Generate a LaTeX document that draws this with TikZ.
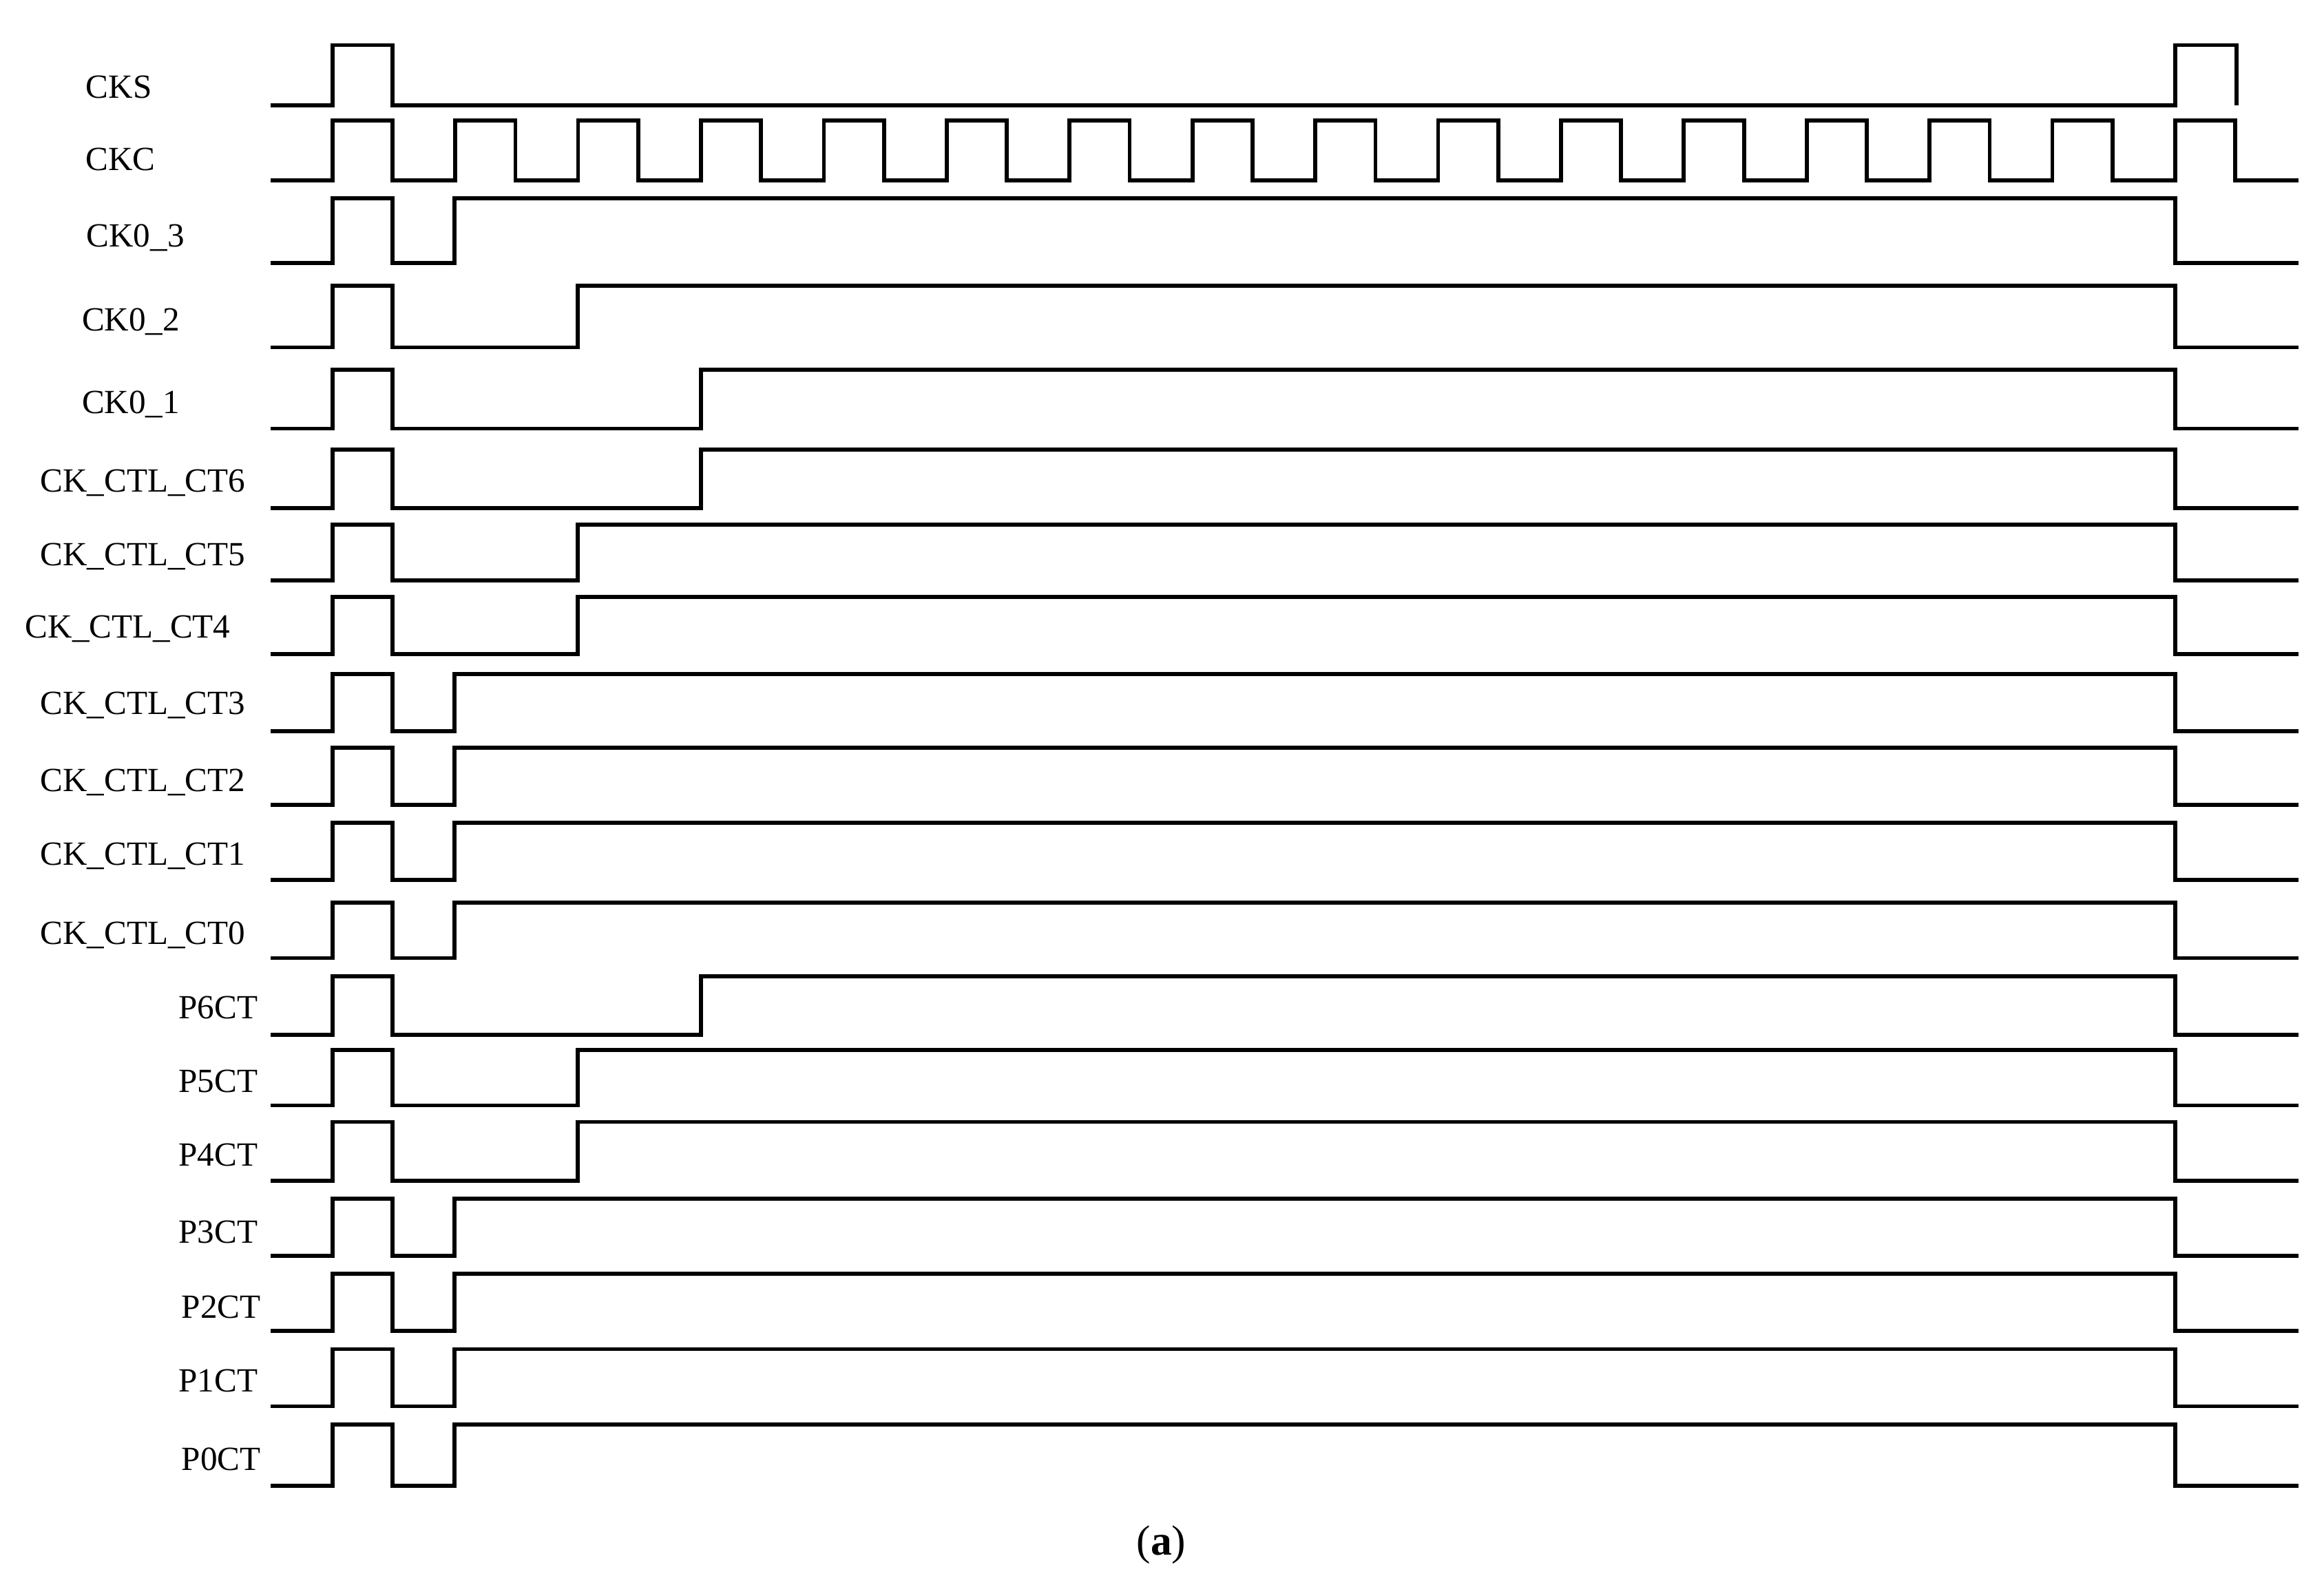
\documentclass[tikz,border=0pt]{standalone}
\usepackage{fontspec}
\setmainfont{Liberation Serif}
\begin{document}
\begin{tikzpicture}[x=0.01cm,y=-0.01cm,
  sig/.style={line width=0.75pt,line join=miter},
  lab/.style={font=\fontsize{6.4}{7.5}\selectfont,inner sep=0pt}]
\useasboundingbox (0,0) rectangle (1545,1055);
% CKS
\draw[sig] (180,70) -- (221,70) -- (221,30) -- (261,30) -- (261,70) -- (1446,70) -- (1446,30) -- (1487,30) -- (1487,70);
\node[lab] (lCKS) at (79,58) {CKS};
% CKC
\draw[sig] (180,120)
  \foreach \i in {0,...,15} { -- ({221+81.67*\i},120) -- ({221+81.67*\i},80) -- ({261+81.67*\i},80) -- ({261+81.67*\i},120) } -- (1528,120);
\node[lab] (lCKC) at (80,106) {CKC};
% other rows: label, lx, ly, high, low, rise
\foreach \t/\lx/\ly/\h/\l/\r in {
 CK0\_3/90/158/132/175/302,
 CK0\_2/87/214/190/231/384,
 CK0\_1/87/269/246/285/466,
 CK\_CTL\_CT6/95/321/299/338/466,
 CK\_CTL\_CT5/95/370/349/386/384,
 CK\_CTL\_CT4/85/418/397/435/384,
 CK\_CTL\_CT3/95/469/448/486/302,
 CK\_CTL\_CT2/95/520/497/535/302,
 CK\_CTL\_CT1/95/569/547/585/302,
 CK\_CTL\_CT0/95/622/600/637/302,
 P6CT/145/670/649/688/466,
 P5CT/145/719/698/735/384,
 P4CT/145/768/746/785/384,
 P3CT/145/819/797/835/302,
 P2CT/147/869/847/885/302,
 P1CT/145/918/897/935/302,
 P0CT/147/970/947/988/302}{
 \draw[sig] (180,\l) -- (221,\l) -- (221,\h) -- (261,\h) -- (261,\l) -- (\r,\l) -- (\r,\h) -- (1446,\h) -- (1446,\l) -- (1528,\l);
 \node[lab] at (\lx,\ly) {\t};
}
\node[font=\fontsize{8}{9}\selectfont,inner sep=0pt] (cap) at (772,1027) {(\textbf{a})};
\end{tikzpicture}
\end{document}
